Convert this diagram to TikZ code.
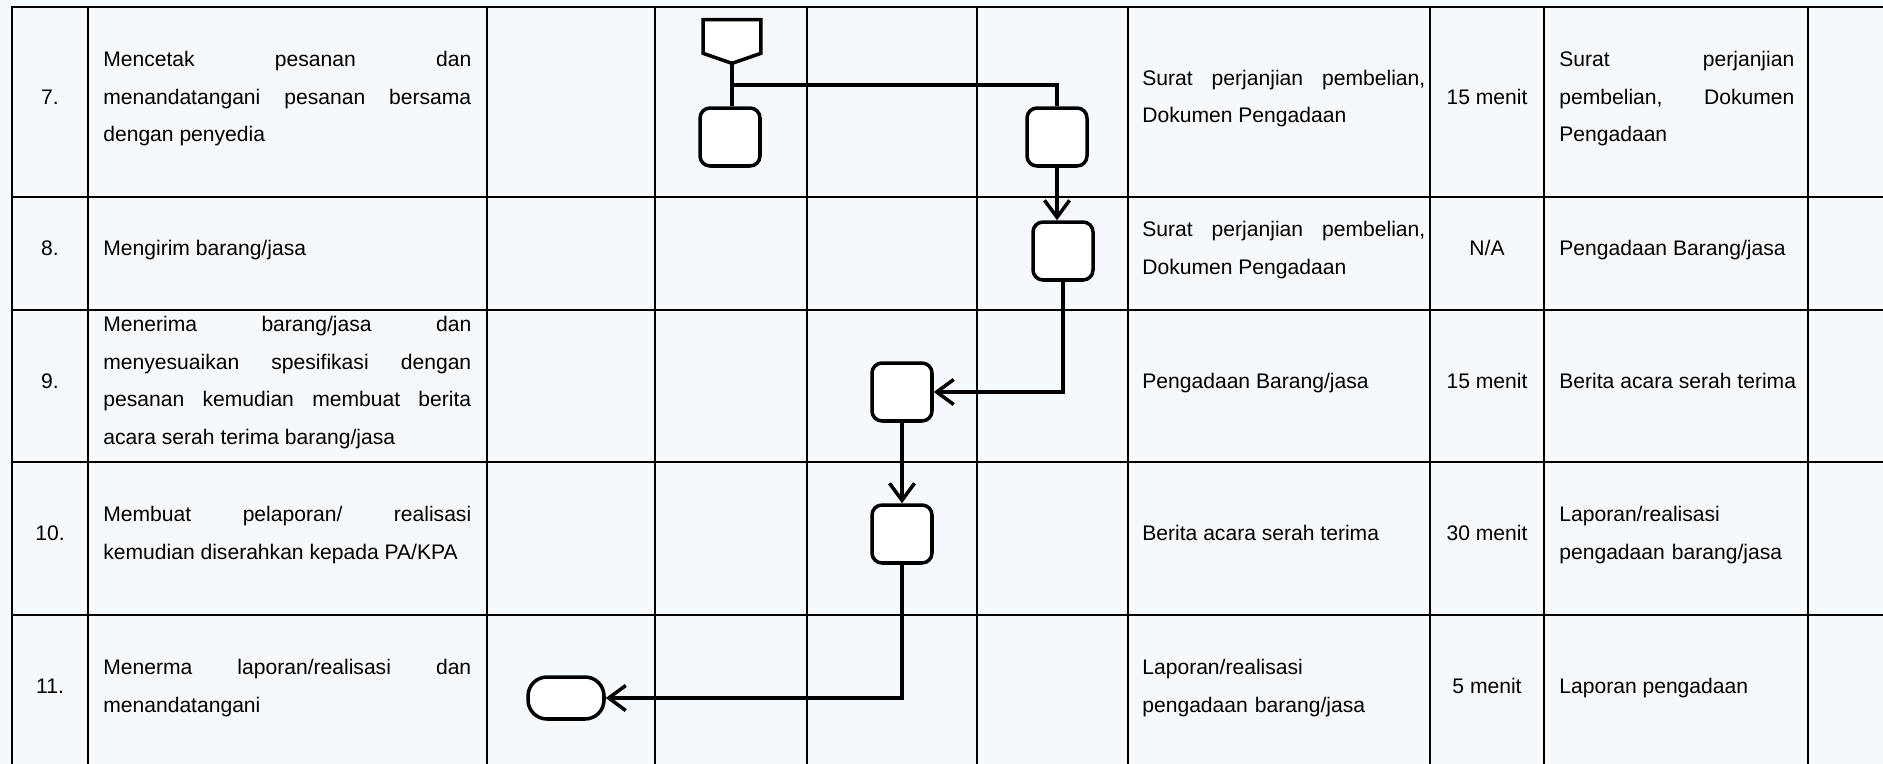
\documentclass[tikz,border=0pt]{standalone}
\usepackage{fontspec}
\setmainfont{Liberation Sans}
\usepackage{xcolor}
\usepackage{tikz}
\usetikzlibrary{positioning, arrows.meta, calc}
\definecolor{pagetint}{RGB}{246,249,252}
\hyphenpenalty=10000
\exhyphenpenalty=10000

\begin{document}
\begin{tikzpicture}[x=0.02cm, y=-0.02cm,
    every node/.style={font=\fontsize{12}{21.3}\selectfont, inner sep=0pt},
    grid/.style={line width=1.2pt, line cap=rect},
    txt/.style={anchor=base west},
    ctr/.style={anchor=base},
    jtxt/.style={anchor=base west, align=justify, text width=#1},
    ltxt/.style={anchor=base west, align=left, text width=#1},
    act/.style={draw, line width=2pt, fill=white, rounded corners=0.2cm, minimum width=1.2cm, minimum height=1.16cm},
    term/.style={draw, line width=2pt, fill=white, rounded corners=0.38cm, minimum width=1.52cm, minimum height=0.84cm},
    link/.style={line width=2pt},
    flow/.style={link, -{Straight Barb[length=0.34cm, width=0.5cm]}}]

  \fill[pagetint] (0,0) rectangle (1883,764);
  \useasboundingbox (0,0) rectangle (1883,764);

  % table rules
  \foreach \y in {7,197,310,462,615}
    \draw[grid] (12,\y) -- (1883,\y);
  \foreach \x in {12,88,487,655,807,977,1128,1430,1544,1808}
    \draw[grid] (\x,7) -- (\x,764);

  % row 7
  \node[ctr] (n7) at (50,104) {7.};
  \node[jtxt=7.36cm] (d7) at (103,66.6) {Mencetak pesanan dan\linebreak menandatangani pesanan bersama\linebreak dengan penyedia};
  \node[jtxt=5.66cm] (i7) at (1142,85.4) {Surat perjanjian pembelian,\linebreak Dokumen Pengadaan};
  \node[ctr] (t7) at (1487,104) {15 menit};
  \node[jtxt=4.7cm] (o7) at (1559,66.6) {Surat perjanjian\linebreak pembelian, Dokumen\linebreak Pengadaan};

  % row 8
  \node[ctr] (n8) at (50,255.6) {8.};
  \node[txt] (d8) at (103,255.6) {Mengirim barang/jasa};
  \node[jtxt=5.66cm] (i8) at (1142,236.9) {Surat perjanjian pembelian,\linebreak Dokumen Pengadaan};
  \node[ctr] (t8) at (1487,255.6) {N/A};
  \node[txt] (o8) at (1559,255.6) {Pengadaan Barang/jasa};

  % row 9
  \node[ctr] (n9) at (50,388.1) {9.};
  \node[jtxt=7.36cm] (d9) at (103,331.9) {Menerima barang/jasa dan\linebreak menyesuaikan spesifikasi dengan\linebreak pesanan kemudian membuat berita\linebreak acara serah terima barang/jasa};
  \node[txt] (i9) at (1142,388.1) {Pengadaan Barang/jasa};
  \node[ctr] (t9) at (1487,388.1) {15 menit};
  \node[txt] (o9) at (1559,388.1) {Berita acara serah terima};

  % row 10
  \node[ctr] (n10) at (50,540.6) {10.};
  \node[jtxt=7.36cm] (d10) at (103,521.9) {Membuat pelaporan/ realisasi\linebreak kemudian diserahkan kepada PA/KPA};
  \node[txt] (i10) at (1142,540.6) {Berita acara serah terima};
  \node[ctr] (t10) at (1487,540.6) {30 menit};
  \node[ltxt=4.7cm] (o10) at (1559,521.9) {Laporan/realisasi\\pengadaan barang/jasa};

  % row 11
  \node[ctr] (n11) at (50,693.6) {11.};
  \node[jtxt=7.36cm] (d11) at (103,674.9) {Menerma laporan/realisasi dan\linebreak menandatangani};
  \node[ltxt=5.66cm] (i11) at (1142,674.9) {Laporan/realisasi\\pengadaan barang/jasa};
  \node[ctr] (t11) at (1487,693.6) {5 menit};
  \node[txt] (o11) at (1559,693.6) {Laporan pengadaan};

  % flow symbols
  \node[minimum width=1.14cm, minimum height=0.86cm] (doc) at (732,41.5) {};
  \draw[link, fill=white] (doc.north west) -- (doc.north east) -- ([yshift=0.2cm]doc.south east)
    -- (doc.south) -- ([yshift=0.2cm]doc.south west) -- cycle;
  \node[act] (b1) at (730,137) {};
  \node[act] (b2) at (1057,137) {};
  \node[act] (b3) at (1063,251) {};
  \node[act] (b4) at (902,392) {};
  \node[act] (b5) at (902,534) {};
  \node[term] (stop) at (566,698) {};

  % connectors
  \draw[link] (doc.south) -- (doc.south |- b1.north);
  \coordinate (split) at ($(doc.south)!0.5!(doc.south |- b1.north)$);
  \draw[link] (split) -| (b2.north);
  \draw[flow] (b2.south) -- (b2.south |- b3.north);
  \draw[flow] (b3.south) |- (b4.east);
  \draw[flow] (b4.south) -- (b5.north);
  \draw[flow] (b5.south) |- (stop.east);
\end{tikzpicture}
\end{document}
